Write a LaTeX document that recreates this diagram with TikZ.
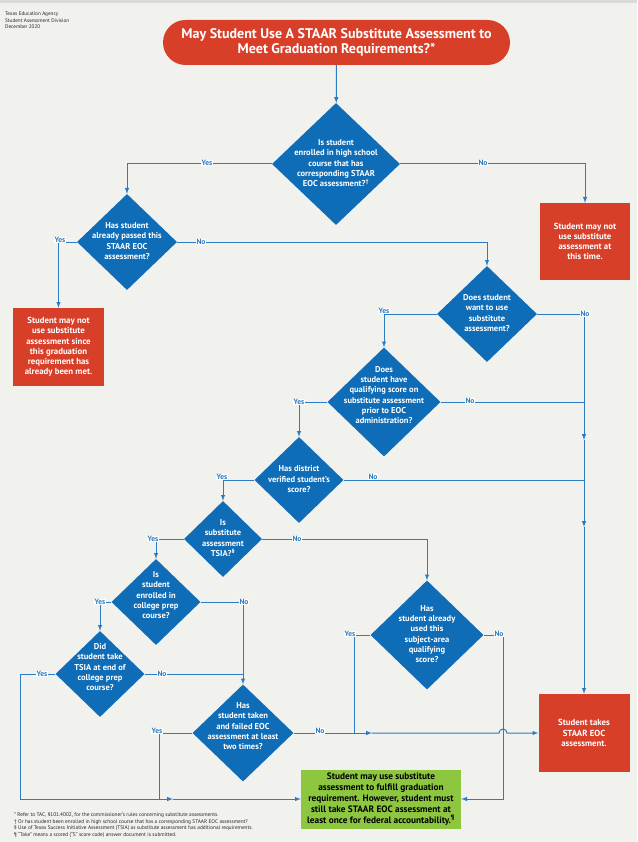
\documentclass[tikz,border=0pt]{standalone}
\usepackage{fontspec}
\setmainfont{PT Sans}
\usetikzlibrary{shapes.geometric, arrows}
\definecolor{taared}{HTML}{D83F29}
\definecolor{taablue}{HTML}{0F6CB6}
\definecolor{lineblue}{HTML}{2C7BC3}
\definecolor{taagreen}{HTML}{8DC63F}
\definecolor{paper}{HTML}{F1F2EE}
% diamond text: centred, takes no room in the shape
\newcommand{\dq}[2][0pt]{\smash{\makebox[0pt]{\raisebox{#1}{\begin{tabular}{@{}c@{}}#2\end{tabular}}}}}

\begin{document}
\begin{tikzpicture}[x=1pt,y=-1pt]
    \tikzstyle{title} = [rectangle, rounded corners=22.5pt, fill=taared, text=white, minimum width=347, minimum height=45, align=center, font=\bfseries\fontsize{14}{14.5}\selectfont]
    \tikzstyle{dec}   = [diamond, fill=taablue, inner sep=0pt, text=white, font=\bfseries\fontsize{8.5}{10.3}\selectfont]
    \tikzstyle{stop}  = [rectangle, fill=taared, text=white, minimum width=91, minimum height=78, inner sep=0pt, align=center, font=\bfseries\fontsize{8.8}{10.2}\selectfont]
    \tikzstyle{go}    = [rectangle, fill=taagreen, text=black, minimum width=160, minimum height=59, inner sep=0pt, align=center, font=\bfseries\fontsize{9.3}{11}\selectfont]
    \tikzstyle{yn}    = [fill=white, inner sep=0.6pt, text=lineblue, font=\bfseries\fontsize{7.5}{8}\selectfont]
    \tikzstyle{note}  = [inner sep=0pt, align=left, text=black!85, font=\fontsize{5.3}{6.5}\selectfont]
    \tikzstyle{arrow} = [lineblue, line width=1pt, ->, >=latex]
    \tikzstyle{line}  = [lineblue, line width=1pt]

    \fill[paper] (0,0) rectangle (637,842);
    \fill[black!15] (0,0) rectangle (637,3);

    \node (tea) [note, anchor=north west, font=\fontsize{5.2}{6.5}\selectfont] at (5,12) {Texas Education Agency\\Student Assessment Division\\December 2020};
    \node (top) [title] at (336.5,42.5) {May Student Use A STAAR Substitute Assessment to\\Meet Graduation Requirements?*};

    \node (enrolled)  [dec, minimum width=128, minimum height=122] at (336,164) {\dq[-2pt]{Is student\\enrolled in high school\\course that has\\corresponding STAAR\\EOC assessment?\textsuperscript{†}}};
    \node (passed)    [dec, minimum width=100, minimum height=96] at (127,242) {\dq[-2pt]{Has student\\already passed this\\STAAR EOC\\assessment?}};
    \node (notnow)    [stop, minimum width=90, minimum height=77] at (585,241.5) {Student may not\\use substitute\\assessment at\\this time.};
    \node (alreadymet)[stop] at (58.5,347) {Student may not\\use substitute\\assessment since\\this graduation\\requirement has\\already been met.};
    \node (wantsub)   [dec, minimum width=100, minimum height=96] at (487,314) {\dq[-2pt]{Does student\\want to use\\substitute\\assessment?}};
    \node (qualscore) [dec, minimum width=113, minimum height=109] at (384,402) {\dq[4pt]{Does\\student have\\qualifying score on\\substitute assessment\\prior to EOC\\administration?}};
    \node (verified)  [dec, minimum width=89, minimum height=86] at (299,480) {\dq[-2pt]{Has district\\verified student’s\\score?}};
    \node (tsia)      [dec, minimum width=78, minimum height=76] at (223,539) {\dq[-2pt]{Is\\substitute\\assessment\\TSIA?\textsuperscript{§}}};
    \node (prep)      [dec, minimum width=89, minimum height=86] at (156,602) {\dq[4pt]{Is\\student\\enrolled in\\college prep\\course?}};
    \node (used)      [dec, minimum width=113, minimum height=109] at (427,635) {\dq[-2pt]{Has\\student already\\used this\\subject-area\\qualifying\\score?}};
    \node (tooktsia)  [dec, minimum width=89, minimum height=86] at (100,674) {\dq[4pt]{Did\\student take\\TSIA at end of\\college prep\\course?}};
    \node (failed)    [dec, minimum width=101, minimum height=97] at (243,733) {\dq[4pt]{Has\\student taken\\and failed EOC\\assessment at least\\two times?}};
    \node (takeseoc)  [stop] at (584,733) {Student takes\\STAAR EOC\\assessment.};
    \node (mayuse)    [go] at (381,799) {Student may use substitute\\assessment to fulfill graduation\\requirement. However, student must\\still take STAAR EOC assessment at\\least once for federal accountability.\textsuperscript{¶}};

    \node (notes) [note, anchor=north west] at (14,812.5) {* Refer to TAC, §101.4002, for the commissioner’s rules concerning substitute assessments.\\
    † Or has student been enrolled in high school course that has a corresponding STAAR EOC assessment?\\
    § Use of Texas Success Initiative Assessment (TSIA) as substitute assessment has additional requirements.\\
    ¶ “Take” means a scored (“S” score code) answer document is submitted.};

    % join points
    \coordinate (r1) at (584,440);
    \coordinate (r2) at (584,527);
    \coordinate (lc) at (20,799);
    \coordinate (ya) at (173,799);
    \coordinate (yb) at (159,799);
    \coordinate (na) at (372,733);
    \coordinate (hop) at (503,733);
    \coordinate (ua) at (354,733);
    \coordinate (ub) at (503,799);

    \draw[arrow] (top) -- (enrolled);
    \draw[arrow] (enrolled.west) -| (passed.north);
    \draw[arrow] (enrolled.east) -| (notnow.north);
    \draw[arrow] (passed.west) -| (alreadymet.north);
    \draw[arrow] (passed.east) -| (wantsub.north);
    \draw[arrow] (wantsub.west) -| (qualscore.north);
    \draw[arrow] (wantsub.east) -| (r1);
    \draw[arrow] (r1) -- (r2);
    \draw[arrow] (r2) -- (takeseoc.north);
    \draw[line] (qualscore.east) -- (qualscore.east -| r1);
    \draw[line] (verified.east) -- (verified.east -| r1);
    \draw[arrow] (qualscore.west) -| (verified.north);
    \draw[arrow] (verified.west) -| (tsia.north);
    \draw[arrow] (tsia.west) -| (prep.north);
    \draw[arrow] (tsia.east) -| (used.north);
    \draw[arrow] (prep.west) -| (tooktsia.north);
    \draw[arrow] (prep.east) -| (failed.north);
    \draw[line] (tooktsia.east) -- (tooktsia.east -| failed);
    \draw[arrow] (tooktsia.west) -| (lc) -- (ya);
    \draw[line] (failed.west) -| (yb);
    \draw[arrow] (ya) -- (mayuse.west);
    \draw[arrow] (failed.east) -- (na);
    \draw[arrow] (na) -- ([xshift=-4pt]hop) arc[start angle=180, end angle=360, radius=4] -- (takeseoc.west);
    \draw[line] (used.west) -| (ua);
    \draw[arrow] (used.east) -| (ub) -- (mayuse.east);

    % yes / no
    \node (y1)  [yn] at (207,163) {Yes};
    \node (n1)  [yn] at (483,163) {No};
    \node (y2)  [yn] at (60,240) {Yes};
    \node (n2)  [yn] at (201,242) {No};
    \node (y3)  [yn] at (384,311) {Yes};
    \node (n3)  [yn] at (585,314) {No};
    \node (y4)  [yn] at (299,402) {Yes};
    \node (n4)  [yn] at (470,401) {No};
    \node (y5)  [yn] at (222,477) {Yes};
    \node (n5)  [yn] at (373,477) {No};
    \node (y6)  [yn] at (153,539) {Yes};
    \node (n6)  [yn] at (297,539) {No};
    \node (y7)  [yn] at (100,602) {Yes};
    \node (n7)  [yn] at (244,602) {No};
    \node (y8)  [yn] at (350,634) {Yes};
    \node (n8)  [yn] at (499,634) {No};
    \node (y9)  [yn] at (42,674) {Yes};
    \node (n9)  [yn] at (162,674) {No};
    \node (y10) [yn] at (157,731) {Yes};
    \node (n10) [yn] at (320,731) {No};
\end{tikzpicture}
\end{document}
